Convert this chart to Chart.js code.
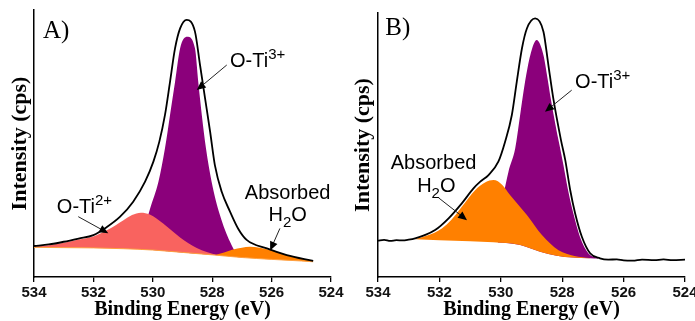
<!DOCTYPE html>
<html>
<head>
<meta charset="utf-8">
<script src="https://cdn.jsdelivr.net/npm/chart.js@4.4.1/dist/chart.umd.min.js"></script>
<style>
  html, body { margin: 0; padding: 0; background: #fff; }
  #wrap { position: relative; width: 695px; height: 321px; overflow: hidden; }
  canvas { position: absolute; top: 0; }
  #chartA { left: 0; }
  #chartB { left: 345px; }
</style>
</head>
<body>
<div id="wrap">
  <canvas id="chartA" width="345" height="321"></canvas>
  <canvas id="chartB" width="350" height="321"></canvas>
</div>
<script>
// binding energy ticks (eV)
const xTicks = [534, 532, 530, 528, 526, 524];

// ---- panel A ----
const energyEnvA = [534, 533.5, 533.0, 532.5, 532.0, 531.55, 531.1, 530.66, 530.26, 529.98, 529.78, 529.59, 529.42, 529.25, 529.08, 528.86, 528.58, 528.41, 528.24, 528.07, 527.91, 527.68, 527.40, 527.12, 526.84, 526.16, 525.49, 524.6];
const envelopeA  = [11.6, 12.2, 13.2, 14.4, 15.7, 18.7, 22.6, 28.2, 35.7, 43.2, 50.7, 60.7, 73.1, 85.7, 93.1, 96.3, 91.9, 79.4, 66.9, 54.4, 41.9, 31.9, 24.5, 18.0, 13.9, 10.7, 8.2, 6.0];

const energyBgA = [534, 533, 532, 531, 530, 529, 528, 527, 526, 525, 524.6];
const backgroundA = [11.1, 11.0, 10.9, 10.6, 10.1, 9.2, 8.3, 7.3, 6.6, 6.0, 5.7];

const energyTi2A = [534, 533.5, 533.0, 532.5, 532.0, 531.5, 531.0, 530.7, 530.4, 530.1, 529.65, 529.08, 528.52, 527.85];
const oTi2A = [11.4, 11.9, 12.8, 14.0, 15.2, 17.8, 21.2, 23.2, 24.1, 23.4, 20.0, 14.8, 10.9, 8.2];

const energyTi3A = [530.4, 530.09, 529.81, 529.59, 529.42, 529.25, 529.08, 528.84, 528.58, 528.47, 528.35, 528.21, 528.02, 527.74, 527.40, 527.18, 526.9];
const oTi3A = [14.0, 25.7, 35.7, 48.2, 60.7, 73.1, 85.7, 90.0, 85.7, 73.1, 60.7, 48.2, 35.7, 23.2, 13.2, 8.9, 7.6];

const energyH2oA = [527.9, 527.6, 527.3, 527.0, 526.73, 526.4, 526.0, 525.5, 525.0, 524.6];
const h2oA = [8.2, 9.2, 10.3, 11.0, 11.3, 11.0, 10.0, 8.3, 6.9, 5.9];

// ---- panel B ----
const energyEnvB = [534, 533.8, 533.6, 533.4, 533.2, 533.0, 532.79, 532.5, 532.14, 531.70, 531.27, 530.89, 530.67, 530.40, 530.08, 529.86, 529.64, 529.48, 529.31, 529.15, 528.88, 528.61, 528.45, 528.29, 528.04, 527.90, 527.74, 527.58, 527.36, 527.09, 526.77, 526.5, 526.22, 526.0, 525.7, 525.4, 525.0, 524.7, 524.4, 524.0];
const envelopeB  = [13.6, 13.9, 13.5, 13.8, 13.7, 14.0, 14.5, 15.6, 17.6, 22.0, 27.6, 33.2, 35.7, 38.2, 43.2, 50.7, 60.7, 73.1, 85.7, 93.1, 96.9, 91.9, 79.4, 66.9, 51.3, 43.8, 32.6, 23.9, 15.1, 8.9, 7.0, 6.5, 6.6, 6.2, 6.1, 6.5, 6.3, 6.6, 6.3, 6.5];

const energyBgB = [532.79, 532.0, 531.0, 530.24, 529.37, 528.72, 528.18, 527.64, 527.1, 526.8];
const backgroundB = [14.1, 13.8, 13.4, 13.0, 12.0, 9.5, 8.0, 7.3, 7.0, 6.9];

const energyH2oB = [532.79, 532.4, 531.92, 531.6, 531.27, 530.83, 530.5, 530.24, 529.95, 529.70, 529.15, 528.66, 528.12, 527.6, 527.1];
const h2oB = [14.1, 15.5, 18.2, 21.5, 26.3, 32.6, 35.5, 36.3, 34.5, 30.7, 23.2, 15.7, 10.0, 7.9, 7.1];

const energyTi3B = [530.1, 529.75, 529.53, 529.37, 529.21, 529.04, 528.83, 528.61, 528.50, 528.36, 528.22, 528.09, 527.96, 527.80, 527.63, 527.42, 527.15, 526.82];
const oTi3B = [20.0, 39.4, 48.2, 60.7, 73.1, 83.1, 88.8, 83.1, 76.0, 66.0, 57.0, 49.5, 42.0, 32.0, 23.5, 15.0, 8.9, 7.0];

const PURPLE = '#8b007b';
const SALMON = '#f9635f';
const ORANGE = '#ff8000';

function series(E, I) {
  return E.map((e, i) => ({ x: e, y: I[i] }));
}

// text labels and arrows, placed in data space (eV, intensity)
const notesA = [
  { parts: [['A)', 0]], at: [533.7, 89.5], align: 'left', font: '25px "Liberation Serif"' },
  { parts: [['O-Ti', 0], ['3+', 1]], at: [527.40, 78.8], align: 'left' },
  { arrow: [527.51, 79.4, 528.52, 70.0] },
  { parts: [['O-Ti', 0], ['2+', 1]], at: [533.23, 24.1], align: 'left' },
  { arrow: [532.51, 22.6, 531.50, 16.4] },
  { parts: [['Absorbed', 0]], at: [525.46, 29.1], align: 'center' },
  { parts: [['H', 0], ['2', -1], ['O', 0]], at: [525.46, 21.1], align: 'center' },
  { arrow: [525.72, 18.2, 526.05, 9.9] }
];
const notesB = [
  { parts: [['B)', 0]], at: [533.76, 90.6], align: 'left', font: '25px "Liberation Serif"' },
  { parts: [['O-Ti', 0], ['3+', 1]], at: [527.58, 70.7], align: 'left' },
  { arrow: [527.69, 70.0, 528.56, 61.9] },
  { parts: [['Absorbed', 0]], at: [532.19, 40.3], align: 'center' },
  { parts: [['H', 0], ['2', -1], ['O', 0]], at: [532.1, 31.9], align: 'center' },
  { arrow: [532.03, 29.7, 531.10, 21.3] }
];

const MAIN_FONT = '20px "Liberation Sans"';
const SMALL_FONT = '15px "Liberation Sans"';

function drawRich(ctx, parts, x, y, align, font) {
  const fonts = parts.map(p => p[1] === 0 ? (font || MAIN_FONT) : SMALL_FONT);
  let total = 0;
  const widths = parts.map((p, i) => { ctx.font = fonts[i]; const w = ctx.measureText(p[0]).width; total += w; return w; });
  let cx = align === 'center' ? x - total / 2 : x;
  ctx.textBaseline = 'alphabetic';
  ctx.textAlign = 'left';
  parts.forEach((p, i) => {
    ctx.font = fonts[i];
    const dy = p[1] === 1 ? -8 : (p[1] === -1 ? 6 : 0);
    ctx.fillText(p[0], cx, y + dy);
    cx += widths[i];
  });
}

function drawArrow(ctx, x1, y1, x2, y2) {
  const ang = Math.atan2(y2 - y1, x2 - x1);
  const len = 9, half = 4;
  ctx.beginPath();
  ctx.moveTo(x1, y1);
  ctx.lineTo(x2 - Math.cos(ang) * len * 0.8, y2 - Math.sin(ang) * len * 0.8);
  ctx.lineWidth = 1;
  ctx.strokeStyle = '#222';
  ctx.stroke();
  ctx.beginPath();
  ctx.moveTo(x2, y2);
  ctx.lineTo(x2 - Math.cos(ang) * len - Math.sin(ang) * half, y2 - Math.sin(ang) * len + Math.cos(ang) * half);
  ctx.lineTo(x2 - Math.cos(ang) * len + Math.sin(ang) * half, y2 - Math.sin(ang) * len - Math.cos(ang) * half);
  ctx.closePath();
  ctx.fillStyle = '#000';
  ctx.fill();
}

const notesPlugin = {
  id: 'notes',
  afterDraw(chart, args, opts) {
    const { ctx, scales: { x, y } } = chart;
    ctx.save();
    (opts.items || []).forEach(n => {
      if (n.arrow) {
        const [e1, v1, e2, v2] = n.arrow;
        drawArrow(ctx, x.getPixelForValue(e1), y.getPixelForValue(v1), x.getPixelForValue(e2), y.getPixelForValue(v2));
      } else {
        ctx.fillStyle = '#000';
        drawRich(ctx, n.parts, x.getPixelForValue(n.at[0]), y.getPixelForValue(n.at[1]), n.align, n.font);
      }
    });
    ctx.restore();
  }
};

Chart.defaults.font.family = '"Liberation Sans", Arial, sans-serif';

function makeOptions(p) {
  return {
    responsive: false,
    animation: false,
    layout: { padding: { top: p.top, right: p.right, left: 0, bottom: 0 } },
    plugins: {
      legend: { display: false },
      tooltip: { enabled: false },
      notes: { items: p.notes }
    },
    elements: {
      point: { radius: 0 },
      line: { cubicInterpolationMode: 'monotone' }
    },
    scales: {
      x: {
        type: 'linear',
        reverse: true,
        min: 524,
        max: 534,
        afterBuildTicks: s => { s.ticks = xTicks.map(v => ({ value: v })); },
        ticks: {
          color: '#111',
          autoSkip: false,
          maxRotation: 0,
          padding: 2,
          font: { family: '"Liberation Sans"', weight: 'bold', size: 15 }
        },
        grid: { display: true, drawOnChartArea: false, drawTicks: true, tickLength: 5, color: '#000', lineWidth: 1.3 },
        border: { display: true, color: '#000', width: 1.5 },
        title: {
          display: true,
          text: 'Binding Energy (eV)',
          color: '#000',
          font: { family: '"Liberation Serif"', weight: 'bold', size: 20, lineHeight: 1 },
          padding: { top: 0, bottom: 1 }
        },
        afterFit: s => { s.height = 44; s.paddingLeft = 0; s.paddingRight = 0; }
      },
      y: {
        min: 0,
        max: p.yMax,
        ticks: { display: false },
        grid: { display: false },
        border: { display: true, color: '#000', width: 1.5 },
        title: {
          display: true,
          text: 'Intensity (cps)',
          color: '#000',
          font: { family: '"Liberation Serif"', weight: 'bold', size: 22, lineHeight: 1 },
          padding: { top: p.titlePad, bottom: 0 }
        },
        afterFit: s => { s.width = p.left; s.paddingTop = 0; s.paddingBottom = 0; }
      }
    }
  };
}

const fillStyle = color => ({ backgroundColor: color, borderColor: 'rgba(0,0,0,0)', borderWidth: 0, pointRadius: 0 });

new Chart(document.getElementById('chartA'), {
  type: 'line',
  data: {
    datasets: [
      { label: 'Envelope', data: series(energyEnvA, envelopeA), borderColor: '#000', borderWidth: 1.8, fill: false, order: 0 },
      { label: 'Background', data: series(energyBgA, backgroundA), borderColor: '#ffa040', borderWidth: 1, fill: false, order: 1 },
      { label: 'Absorbed H2O', data: series(energyH2oA, h2oA), fill: 1, order: 2, ...fillStyle(ORANGE) },
      { label: 'O-Ti2+', data: series(energyTi2A, oTi2A), fill: 1, order: 3, ...fillStyle(SALMON) },
      { label: 'O-Ti3+', data: series(energyTi3A, oTi3A), fill: 1, order: 4, ...fillStyle(PURPLE) }
    ]
  },
  options: makeOptions({ top: 10, right: 14, left: 34, yMax: 100, titlePad: 9, notes: notesA }),
  plugins: [notesPlugin]
});

new Chart(document.getElementById('chartB'), {
  type: 'line',
  data: {
    datasets: [
      { label: 'Envelope', data: series(energyEnvB, envelopeB), borderColor: '#000', borderWidth: 1.8, fill: false, order: 0 },
      { label: 'Background', data: series(energyBgB, backgroundB), borderColor: 'rgba(0,0,0,0)', borderWidth: 0, fill: false, order: 1 },
      { label: 'Absorbed H2O', data: series(energyH2oB, h2oB), fill: 1, order: 2, ...fillStyle(ORANGE) },
      { label: 'O-Ti3+', data: series(energyTi3B, oTi3B), fill: 1, order: 3, ...fillStyle(PURPLE) }
    ]
  },
  options: makeOptions({ top: 13, right: 10, left: 33, yMax: 98.9, titlePad: 7, notes: notesB }),
  plugins: [notesPlugin]
});
</script>
</body>
</html>
